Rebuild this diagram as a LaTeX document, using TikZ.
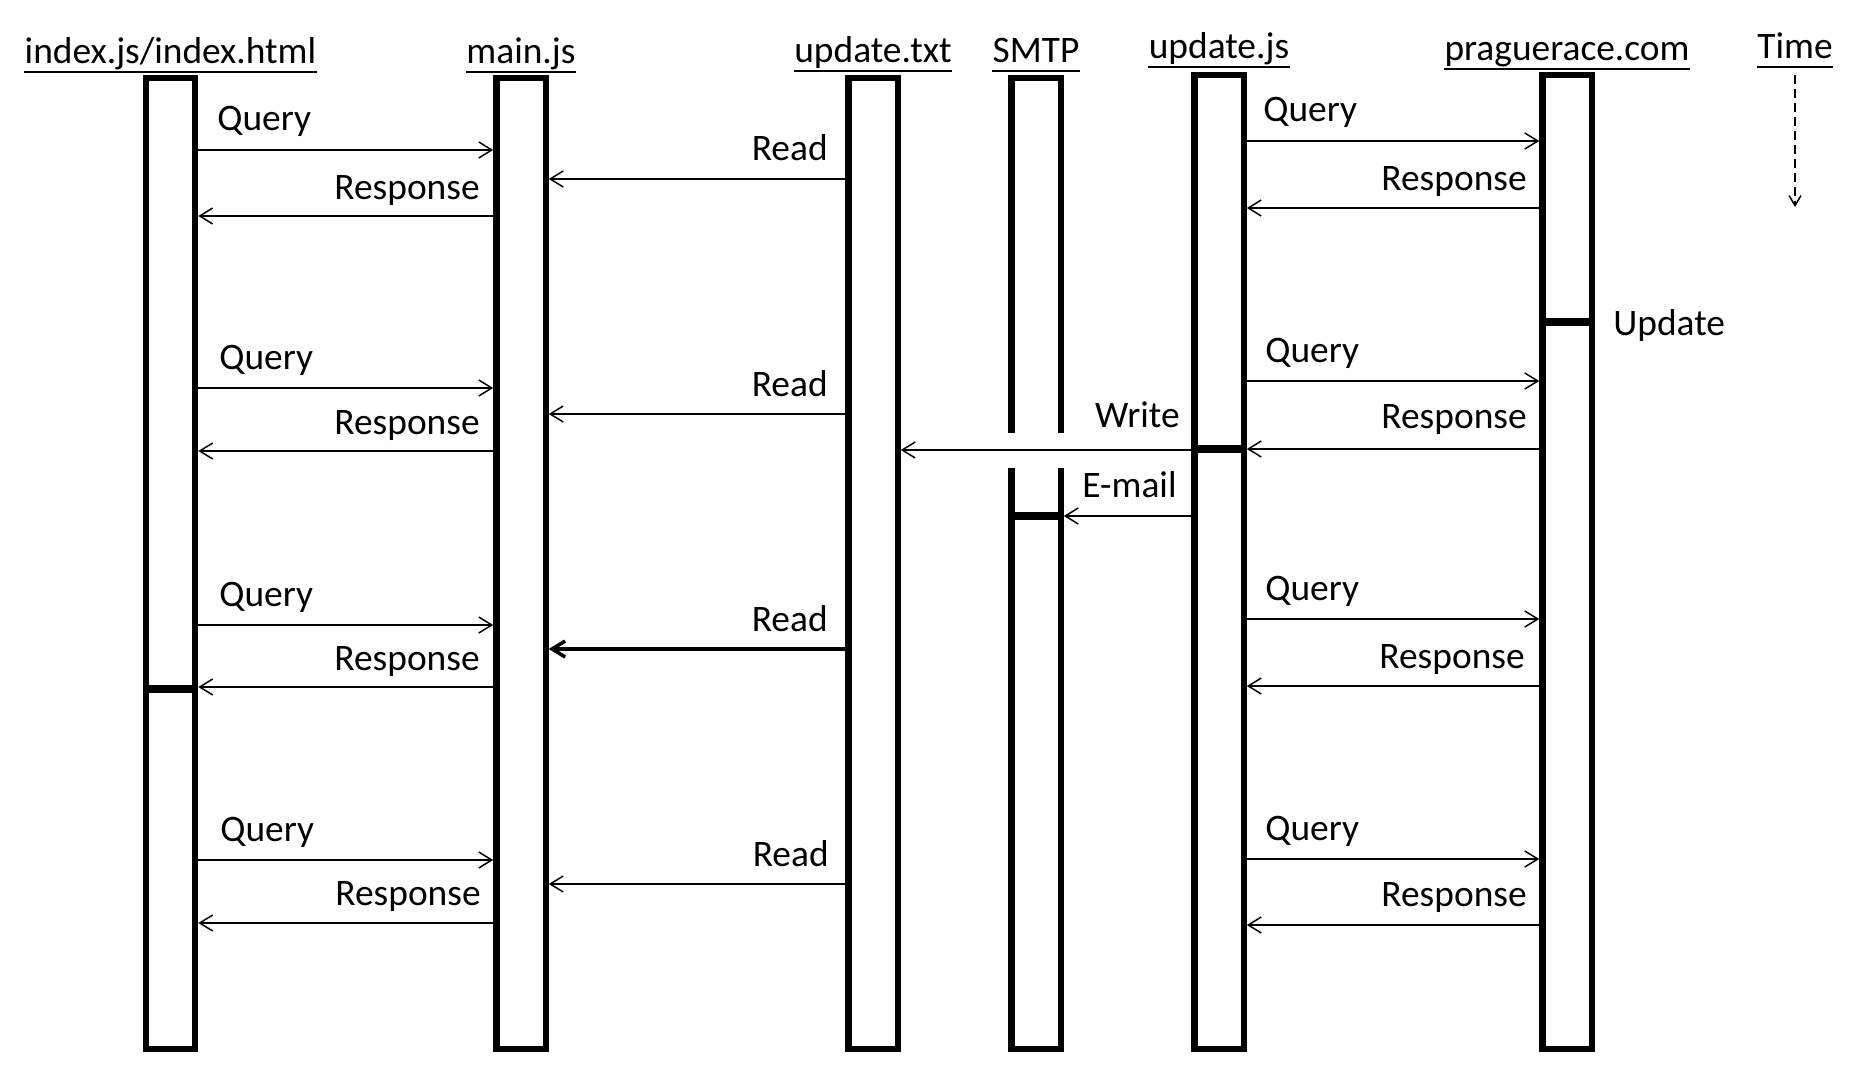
\documentclass[tikz,border=0pt]{standalone}
\usepackage{fontspec}
\setmainfont{Carlito}
\usetikzlibrary{arrows.meta}

\begin{document}
\begin{tikzpicture}[x=0.02cm, y=-0.02cm, line join=miter,
    every node/.style={font=\fontsize{21.3}{25.6}\selectfont},
    life/.style={draw, line width=0.126cm, minimum width=0.986cm, inner sep=0pt},
    msg/.style={-{Straight Barb[length=0.26cm, width=0.32cm]}, line width=0.03cm},
    bar/.style={line width=0.15cm},
    head/.style={anchor=base, inner sep=0pt},
    uline/.style={line width=0.04cm},
    txtl/.style={anchor=base west, inner sep=0pt},
    txtr/.style={anchor=base east, inner sep=0pt}]
    \useasboundingbox (0,0) rectangle (1857,1088);
    % lifelines
    \node[life, minimum height=19.41cm] (idx) at (170.5,563.5) {};
    \node[life, minimum height=19.41cm] (main) at (521,563.5) {};
    \node[life, minimum height=19.41cm] (txt) at (873,563.5) {};
    \node[life, minimum height=19.41cm] (smtp) at (1036,563.5) {};
    \node[life, minimum height=19.48cm] (upd) at (1219,561.8) {};
    \node[life, minimum height=19.48cm] (prg) at (1567,561.8) {};
    \fill[white] ([xshift=-0.1cm]smtp.west |- 0,433) rectangle ([xshift=0.1cm]smtp.east |- 0,468);
    % headings
    \node[head] (hidx) at (idx |- 0,64) {index.js/index.html};
    \node[head] (hmain) at (main |- 0,64) {main.js};
    \node[head] (htxt) at (txt |- 0,63) {update.txt};
    \node[head] (hsmtp) at (smtp |- 0,63) {SMTP};
    \node[head] (hupd) at (upd |- 0,59) {update.js};
    \node[head] (hprg) at (prg |- 0,61) {praguerace.com};
    \node[head] (htime) at (1795,59) {Time};
    \foreach \h in {hidx,hmain,htxt,hsmtp,hupd,hprg,htime}
      \draw[uline] ([yshift=-0.16cm]\h.base west) -- ([yshift=-0.16cm]\h.base east);
    \coordinate (tend) at (1795,207);
    \draw[-{Straight Barb[length=0.2cm, width=0.24cm]}, line width=0.03cm, dash pattern=on 0.18cm off 0.1cm] ([yshift=-0.32cm]htime.base) -- (tend);
    % first round
    \draw[msg] (idx.east |- 0,150) -- (main.west |- 0,150);
    \draw[msg] (txt.west |- 0,179) -- (main.east |- 0,179);
    \draw[msg] (main.west |- 0,216) -- (idx.east |- 0,216);
    \draw[msg] (upd.east |- 0,141) -- (prg.west |- 0,141);
    \draw[msg] (prg.west |- 0,208) -- (upd.east |- 0,208);
    \node[txtl] (q1) at (217,131) {Query};
    \node[txtr] (r1) at (480,199) {Response};
    \node[txtr] (rd1) at (828,161) {Read};
    \node[txtl] (uq1) at (1263,122) {Query};
    \node[txtr] (ur1) at (1527,191) {Response};
    % update of the site
    \draw[bar] (prg.west |- 0,322) -- (prg.east |- 0,322);
    \node[txtl] (lupd) at (1613,335) {Update};
    % second round
    \draw[msg] (idx.east |- 0,388) -- (main.west |- 0,388);
    \draw[msg] (txt.west |- 0,414) -- (main.east |- 0,414);
    \draw[msg] (main.west |- 0,451) -- (idx.east |- 0,451);
    \draw[msg] (upd.east |- 0,381) -- (prg.west |- 0,381);
    \draw[msg] (prg.west |- 0,449) -- (upd.east |- 0,449);
    \draw[bar] (upd.west |- 0,449) -- (upd.east |- 0,449);
    \draw[msg] (upd.west |- 0,450) -- (txt.east |- 0,450);
    \draw[msg] (upd.west |- 0,516) -- (smtp.east |- 0,516);
    \draw[bar] (smtp.west |- 0,516) -- (smtp.east |- 0,516);
    \node[txtl] (q2) at (219,369) {Query};
    \node[txtr] (r2) at (480,434) {Response};
    \node[txtr] (rd2) at (828,396) {Read};
    \node[txtl] (uq2) at (1265,362) {Query};
    \node[txtr] (ur2) at (1527,428) {Response};
    \node[txtr] (lw) at (1180,427) {Write};
    \node[txtr] (lm) at (1177,497) {E-mail};
    % third round
    \draw[msg] (idx.east |- 0,625) -- (main.west |- 0,625);
    \draw[msg, line width=0.07cm] (txt.west |- 0,649) -- (main.east |- 0,649);
    \draw[msg] (main.west |- 0,687) -- (idx.east |- 0,687);
    \draw[bar] (idx.west |- 0,689) -- (idx.east |- 0,689);
    \draw[msg] (upd.east |- 0,619) -- (prg.west |- 0,619);
    \draw[msg] (prg.west |- 0,686) -- (upd.east |- 0,686);
    \node[txtl] (q3) at (219,606) {Query};
    \node[txtr] (r3) at (480,670) {Response};
    \node[txtr] (rd3) at (828,631) {Read};
    \node[txtl] (uq3) at (1265,600) {Query};
    \node[txtr] (ur3) at (1525,668) {Response};
    % fourth round
    \draw[msg] (idx.east |- 0,860) -- (main.west |- 0,860);
    \draw[msg] (txt.west |- 0,884) -- (main.east |- 0,884);
    \draw[msg] (main.west |- 0,923) -- (idx.east |- 0,923);
    \draw[msg] (upd.east |- 0,859) -- (prg.west |- 0,859);
    \draw[msg] (prg.west |- 0,925) -- (upd.east |- 0,925);
    \node[txtl] (q4) at (220,841) {Query};
    \node[txtr] (r4) at (481,905) {Response};
    \node[txtr] (rd4) at (829,866) {Read};
    \node[txtl] (uq4) at (1265,840) {Query};
    \node[txtr] (ur4) at (1527,906) {Response};
\end{tikzpicture}
\end{document}
